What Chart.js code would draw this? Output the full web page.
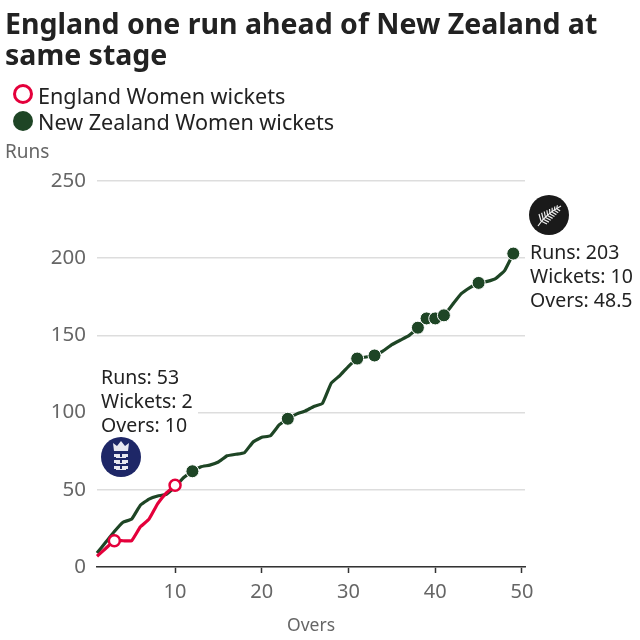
<!DOCTYPE html>
<html>
<head>
<meta charset="utf-8">
<script src="https://cdn.jsdelivr.net/npm/chart.js@4/dist/chart.umd.min.js"></script>
<style>
  html, body { margin: 0; padding: 0; background: #fff; }
  #wrap { position: relative; width: 640px; height: 640px; overflow: hidden; font-family: "Noto Sans", sans-serif; }
  #wrap canvas { position: absolute; left: 0; top: 0; }
  .txt { position: absolute; white-space: nowrap; }
  #title { left: 5px; top: 8px; font-size: 28.5px; line-height: 31px; font-weight: 700; color: #222; }
  .leg { left: 38px; font-size: 21.6px; line-height: 26px; color: #222; }
  #runs { left: 5px; top: 140px; font-size: 19px; line-height: 22px; color: #666; }
  .note { font-size: 19.5px; line-height: 24px; color: #222; white-space: pre; }
  #noteEng { left: 97px; top: 365px; width: 97px; padding-left: 4px; background: #fff; }
  #noteNz { left: 530px; top: 240px; }
  .swatch { position: absolute; box-sizing: border-box; border-radius: 50%; }
</style>
</head>
<body>
<div id="wrap">
  <canvas id="chart" width="640" height="640"></canvas>
  <div class="txt" id="title">England one run ahead of New Zealand at<br>same stage</div>
  <div class="swatch" style="left:13px;top:84px;width:20px;height:20px;border:3px solid #e4003b;background:#fff"></div>
  <div class="txt leg" style="top:83px">England Women wickets</div>
  <div class="swatch" style="left:13px;top:111px;width:20px;height:20px;background:#1e4525"></div>
  <div class="txt leg" style="top:109px">New Zealand Women wickets</div>
  <div class="txt" id="runs">Runs</div>
  <div class="txt note" id="noteEng">Runs: 53
Wickets: 2
Overs: 10</div>
  <div class="txt note" id="noteNz">Runs: 203
Wickets: 10
Overs: 48.5</div>
</div>
<script>
const engOvers = [1, 2, 3, 4, 5, 6, 7, 8, 9, 10];
const engRuns = [7, 12, 17, 17, 17, 26, 31, 41, 48, 53];
const engWickets = [3, 10];

const nzOvers = [1, 2, 3, 4, 5, 6, 7, 8, 9, 10, 11, 12, 13, 14, 15, 16, 17, 18, 19, 20, 21, 22, 23, 24, 25,
  26, 27, 28, 29, 30, 31, 32, 33, 34, 35, 36, 37, 38, 39, 40, 41, 42, 43, 44, 45, 46, 47, 48, 49];
const nzRuns = [9, 16, 23, 29, 31, 40, 44, 46, 47, 52, 58, 62, 65, 66, 68, 72, 73, 74, 81, 84, 85, 92, 96, 99, 101,
  104, 106, 119, 124, 130, 135, 136, 137, 140, 144, 147, 150, 155, 161, 161, 163, 170, 177, 181, 184, 185, 187, 192, 203];
const nzWickets = [12, 23, 31, 33, 38, 39, 40, 41, 45, 49];

const xTicks = [10, 20, 30, 40, 50];
const yTicks = [0, 50, 100, 150, 200, 250];

const RED = "#e4003b";
const GREEN = "#1e4525";

function toPoints(xs, ys) {
  return xs.map((x, i) => ({ x: x, y: ys[i] }));
}

// team badges next to the end-of-innings notes
const badges = {
  id: "badges",
  afterDraw(chart) {
    const c = chart.ctx;
    c.save();

    // England
    c.fillStyle = "#1e2767";
    c.beginPath(); c.arc(121, 457, 20, 0, Math.PI * 2); c.fill();
    c.fillStyle = "#e8e8f0";
    c.beginPath();
    c.moveTo(114, 451); c.lineTo(113, 443); c.lineTo(117, 446); c.lineTo(121, 441);
    c.lineTo(125, 446); c.lineTo(129, 443); c.lineTo(128, 451);
    c.closePath(); c.fill();
    [454, 460, 466].forEach(y => {
      c.fillRect(114, y, 6, 3);
      c.fillRect(122, y, 6, 3);
      c.fillRect(116, y + 3, 10, 1);
    });

    // New Zealand
    c.fillStyle = "#1a1a1a";
    c.beginPath(); c.arc(549, 215, 20, 0, Math.PI * 2); c.fill();
    c.strokeStyle = "#eee";
    c.lineWidth = 1.2;
    c.beginPath(); c.moveTo(538, 226); c.quadraticCurveTo(546, 214, 561, 206); c.stroke();
    for (let i = 0; i < 8; i++) {
      const t = i / 8;
      const bx = 541 + t * 18, by = 221 - t * 14;
      c.beginPath(); c.moveTo(bx, by); c.lineTo(bx - 2 + t * 3, by - 7 + t * 4); c.stroke();
      c.beginPath(); c.moveTo(bx, by); c.lineTo(bx + 6 - t * 3, by + 3 - t); c.stroke();
    }
    c.restore();
  }
};

new Chart(document.getElementById("chart"), {
  type: "line",
  data: {
    datasets: [
      {
        label: "England Women wickets",
        data: toPoints(engOvers, engRuns),
        borderColor: RED,
        borderWidth: 3.2,
        tension: 0.1,
        pointRadius: ctx => engWickets.includes(ctx.raw.x) ? 5.5 : 0,
        pointBackgroundColor: "#fff",
        pointBorderColor: RED,
        pointBorderWidth: 2.5
      },
      {
        label: "New Zealand Women wickets",
        data: toPoints(nzOvers, nzRuns),
        borderColor: GREEN,
        borderWidth: 3.2,
        tension: 0.1,
        pointRadius: ctx => nzWickets.includes(ctx.raw.x) ? 6.5 : 0,
        pointBackgroundColor: GREEN,
        pointBorderColor: "#fff",
        pointBorderWidth: 1
      }
    ]
  },
  options: {
    responsive: false,
    animation: false,
    layout: { padding: { top: 181, right: 115, left: 0, bottom: 0 } },
    plugins: { legend: { display: false }, tooltip: { enabled: false } },
    clip: false,
    scales: {
      x: {
        type: "linear",
        min: 1,
        max: 50.35,
        afterFit: s => { s.height = 73; },
        afterBuildTicks: s => { s.ticks = xTicks.map(v => ({ value: v })); },
        border: { color: "#333", width: 1.5 },
        grid: { drawOnChartArea: false, drawTicks: true, tickLength: 6, tickColor: "#333", tickWidth: 1.5 },
        ticks: { font: { family: "'Noto Sans'", size: 20 }, color: "#666", padding: 7, maxRotation: 0 },
        title: { display: true, text: "Overs", font: { family: "'Noto Sans'", size: 17.5 }, color: "#666", padding: { top: 6, bottom: 3 } }
      },
      y: {
        min: 0,
        max: 250,
        afterFit: s => { s.width = 97; },
        afterBuildTicks: s => { s.ticks = yTicks.map(v => ({ value: v })); },
        border: { display: false },
        grid: { color: "#ddd", lineWidth: 1.5, drawTicks: false },
        ticks: { font: { family: "'Noto Sans'", size: 20.5 }, color: "#666", padding: 11 }
      }
    }
  },
  plugins: [badges]
});
</script>
</body>
</html>
